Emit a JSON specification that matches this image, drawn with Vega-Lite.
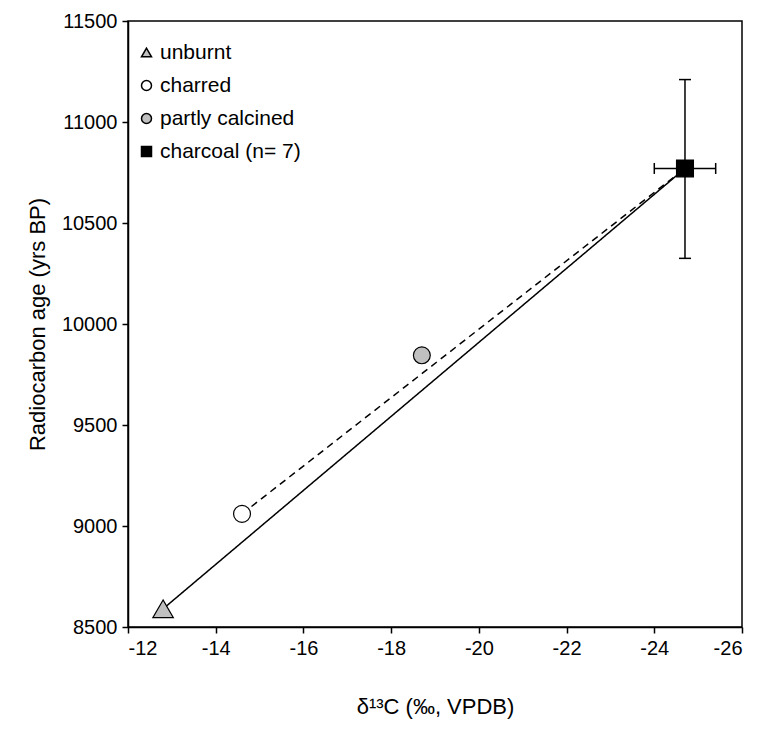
{
  "$schema": "https://vega.github.io/schema/vega-lite/v6.json",
  "width": 614,
  "height": 606,
  "autosize": {"type": "none"},
  "padding": {"left": 128, "top": 21, "right": 20, "bottom": 105},
  "background": "white",
  "config": {
    "font": "Liberation Sans",
    "view": {"stroke": "black", "strokeWidth": 1.5},
    "axis": {
      "domainColor": "black", "domainWidth": 1.5, "tickColor": "black", "tickWidth": 1.5, "tickSize": 6,
      "labelColor": "black", "labelFontSize": 20, "labelFont": "Liberation Sans", "labelPadding": 5,
      "titleColor": "black", "titleFontSize": 22, "titleFont": "Liberation Sans", "titleFontWeight": "normal",
      "grid": false
    }
  },
  "layer": [
    {
      "data": {"values": [
        {"series": "solid", "d13C": -12.8, "age": 8590},
        {"series": "solid", "d13C": -24.7, "age": 10770},
        {"series": "dashed", "d13C": -14.6, "age": 9060},
        {"series": "dashed", "d13C": -24.7, "age": 10770}
      ]},
      "mark": {"type": "line", "color": "black", "strokeWidth": 1.5},
      "encoding": {
        "x": {"field": "d13C", "type": "quantitative", "scale": {"domain": [-26, -12], "reverse": true, "nice": false},
              "axis": {"values": [-12, -14, -16, -18, -20, -22, -24, -26], "labelExpr": "'' + datum.value", "title": "δ¹³C (‰, VPDB)", "titlePadding": 38}},
        "y": {"field": "age", "type": "quantitative", "scale": {"domain": [8500, 11500], "nice": false, "zero": false},
              "axis": {"values": [8500, 9000, 9500, 10000, 10500, 11000, 11500], "labelExpr": "'' + datum.value", "title": "Radiocarbon age (yrs BP)", "titlePadding": 12}},
        "detail": {"field": "series"},
        "strokeDash": {"field": "series", "type": "nominal", "scale": {"domain": ["solid", "dashed"], "range": [[1, 0], [7, 5]]}, "legend": null}
      }
    },
    {
      "data": {"values": [{"d13C": -24.7, "lo": 10325, "hi": 11210}]},
      "mark": {"type": "rule", "color": "black", "strokeWidth": 1.5},
      "encoding": {
        "x": {"field": "d13C", "type": "quantitative"},
        "y": {"field": "lo", "type": "quantitative"},
        "y2": {"field": "hi"}
      }
    },
    {
      "data": {"values": [{"age": 10770, "lo": -24.0, "hi": -25.4}]},
      "mark": {"type": "rule", "color": "black", "strokeWidth": 1.5},
      "encoding": {
        "y": {"field": "age", "type": "quantitative"},
        "x": {"field": "lo", "type": "quantitative"},
        "x2": {"field": "hi"}
      }
    },
    {
      "data": {"values": [{"d13C": -24.7, "age": 10325}, {"d13C": -24.7, "age": 11210}]},
      "mark": {"type": "tick", "orient": "horizontal", "color": "black", "size": 12, "thickness": 1.5, "opacity": 1},
      "encoding": {
        "x": {"field": "d13C", "type": "quantitative"},
        "y": {"field": "age", "type": "quantitative"}
      }
    },
    {
      "data": {"values": [{"d13C": -24.0, "age": 10770}, {"d13C": -25.4, "age": 10770}]},
      "mark": {"type": "tick", "orient": "vertical", "color": "black", "size": 11, "thickness": 1.5, "opacity": 1},
      "encoding": {
        "x": {"field": "d13C", "type": "quantitative"},
        "y": {"field": "age", "type": "quantitative"}
      }
    },
    {
      "data": {"values": [
        {"type": "charred", "d13C": -14.6, "age": 9060},
        {"type": "partly calcined", "d13C": -18.7, "age": 9845},
        {"type": "charcoal (n= 7)", "d13C": -24.7, "age": 10770}
      ]},
      "mark": {"type": "point", "filled": true, "stroke": "black", "strokeWidth": 1.2, "opacity": 1, "size": 285},
      "encoding": {
        "x": {"field": "d13C", "type": "quantitative"},
        "y": {"field": "age", "type": "quantitative"},
        "shape": {"field": "type", "type": "nominal",
          "scale": {"domain": ["unburnt", "charred", "partly calcined", "charcoal (n= 7)"], "range": ["triangle-up", "circle", "circle", "square"]},
          "legend": {"title": null, "orient": "none", "legendX": 8, "legendY": 21, "labelFontSize": 21, "labelColor": "black", "labelFont": "Liberation Sans",
                     "symbolSize": 100, "rowPadding": 11, "labelOffset": 3,
                     "encode": {"symbols": {"update": {"stroke": {"value": "black"}, "strokeWidth": {"value": 1}}}}}},
        "fill": {"field": "type", "type": "nominal",
          "scale": {"domain": ["unburnt", "charred", "partly calcined", "charcoal (n= 7)"], "range": ["#c0c0c0", "white", "#c0c0c0", "black"]}}
      }
    },
    {
      "data": {"values": [
        {"type": "unburnt", "d13C": -12.8, "age": 8590}
      ]},
      "mark": {"type": "point", "filled": true, "stroke": "black", "strokeWidth": 1.2, "opacity": 1, "size": 420},
      "encoding": {
        "x": {"field": "d13C", "type": "quantitative"},
        "y": {"field": "age", "type": "quantitative"},
        "shape": {"field": "type", "type": "nominal"},
        "fill": {"field": "type", "type": "nominal"}
      }
    }
  ]
}
